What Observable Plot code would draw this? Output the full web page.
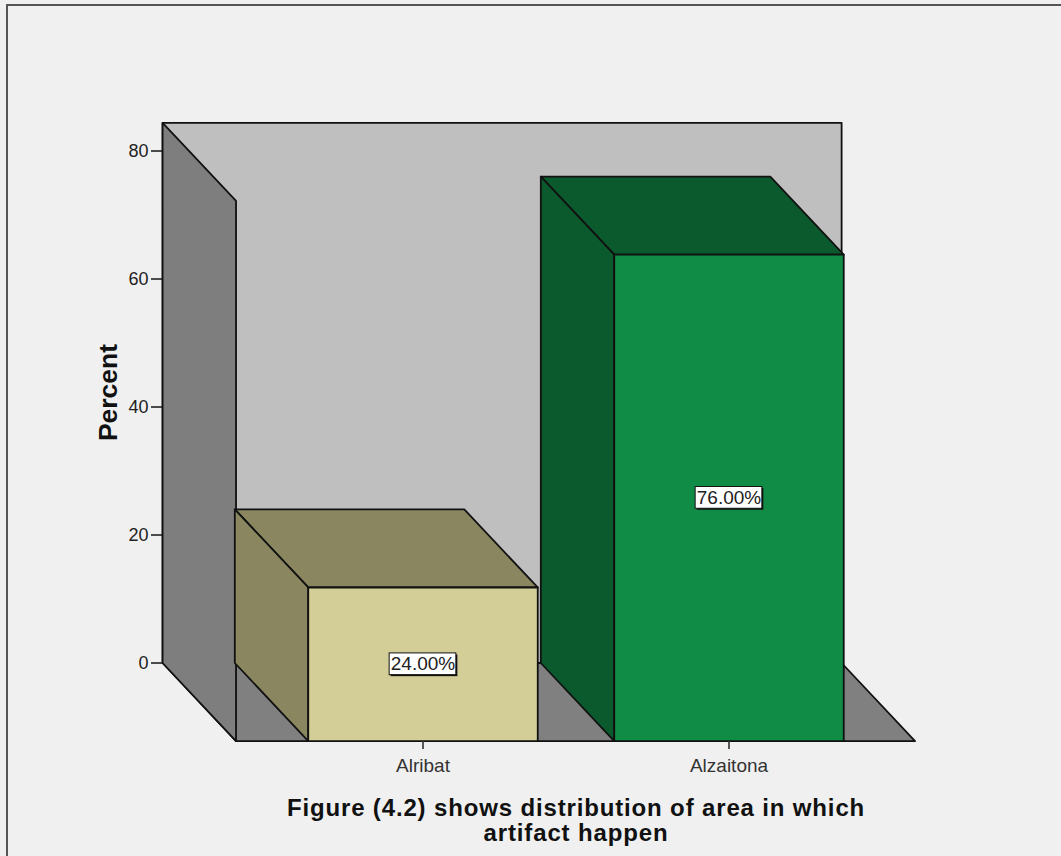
<!DOCTYPE html>
<html>
<head>
<meta charset="utf-8">
<script src="https://cdn.jsdelivr.net/npm/d3@7"></script>
<script src="https://cdn.jsdelivr.net/npm/@observablehq/plot@0.6"></script>
<style>
  html, body { margin: 0; padding: 0; width: 1061px; height: 856px; overflow: hidden; background: #f0f0f0; }
  #frame { position: absolute; left: 6px; top: 4px; right: 0; bottom: 0; border-top: 2px solid #555; border-left: 2px solid #555; }
  #chart { position: absolute; left: 0; top: 0; }
  #chart svg { display: block; background: transparent; }
  #caption { position: absolute; left: 0; top: 795px; width: 1152px; text-align: center; color: #111;
    font: bold 24px/25px "Liberation Sans", Arial, sans-serif; letter-spacing: 0.85px; }
</style>
</head>
<body>
<div id="frame"></div>
<div id="chart"></div>
<div id="caption">Figure (4.2) shows distribution of area in which<br>artifact happen</div>
<script>
// Values of the chart
const categories = ["Alribat", "Alzaitona"];
const percents = [24, 76];
const yTicks = [0, 20, 40, 60, 80];

// Face colours per bar
const frontColors = ["#d3ce97", "#108c47"];
const shadeColors = ["#8a865f", "#0a5a2e"];

// Oblique projection, in scale units: the axis sits on the back plane,
// the categories on the front plane.
const depthX = 0.24;        // one depth step along x
const depthY = 12.2;        // one depth step along percent
const barHalf = 0.375;      // half the bar width
const roomLeft = -0.611;    // room edges on the front plane
const roomRight = 1.608;
const roomTop = 84.4;

const front = (u, v) => ({u, v: v - depthY});
const back = (u, v) => ({u: u - depthX, v});

const face = (points, fill) =>
  Plot.line(points, {x: "u", y: "v", fill, stroke: "#111", strokeWidth: 1.8, curve: "linear-closed"});

const room = [
  face([back(roomLeft, roomTop), back(roomRight, roomTop), back(roomRight, 0), back(roomLeft, 0)], "#bfbfbf"),
  face([back(roomLeft, 0), back(roomRight, 0), front(roomRight, 0), front(roomLeft, 0)], "#808080"),
  face([back(roomLeft, roomTop), front(roomLeft, roomTop), front(roomLeft, 0), back(roomLeft, 0)], "#7e7e7e")
];

const bars = percents.flatMap((p, i) => {
  const a = i - barHalf, b = i + barHalf;
  return [
    face([back(a, p), back(b, p), front(b, p), front(a, p)], shadeColors[i]),
    face([back(a, 0), back(a, p), front(a, p), front(a, 0)], shadeColors[i]),
    face([front(a, 0), front(b, 0), front(b, p), front(a, p)], frontColors[i])
  ];
});

// Value labels sit at the middle of each front face
const labels = percents.map((p, i) => ({
  i, mid: p / 2 - depthY, text: `${p.toFixed(2)}%`
}));
const boxX = 0.109, boxY = 1.7;
const labelBox = (opts) => Plot.rect(labels, {
  x1: d => d.i - boxX, x2: d => d.i + boxX,
  y1: d => d.mid - boxY, y2: d => d.mid + boxY,
  ...opts
});

const chart = Plot.plot({
  width: 1061,
  height: 795,
  marginLeft: 162,
  marginRight: 146,
  marginTop: 123,
  marginBottom: 54,
  x: {type: "linear", domain: [0, 1], range: [422.5, 728.5]},
  y: {type: "linear", domain: [0, 80], range: [662.5, 150.5]},
  style: {fontFamily: "'Liberation Sans', Arial, sans-serif", background: "transparent"},
  marks: [
    ...room,
    ...bars,
    labelBox({fill: "#111", dx: 1.5, dy: 1.5}),
    labelBox({fill: "#fff", stroke: "#111", strokeWidth: 1}),
    Plot.text(labels, {x: "i", y: "mid", text: "text", fontSize: 19, fill: "#222"}),
    Plot.axisY({ticks: yTicks, tickSize: 11, tickPadding: 3, fontSize: 18, label: null, stroke: "#222", strokeWidth: 1.6, fill: "#222"}),
    Plot.axisX({ticks: [0, 1], tickFormat: i => categories[i], tickSize: 8, tickPadding: 9, fontSize: 19, label: null, stroke: "#333", strokeWidth: 1.6, fill: "#333"}),
    Plot.text(["Percent"], {frameAnchor: "left", textAnchor: "middle", rotate: -90, dx: -54, dy: -40, fontSize: 26.5, fontWeight: "bold", fill: "#111"})
  ]
});
document.getElementById("chart").appendChild(chart);
</script>
</body>
</html>
